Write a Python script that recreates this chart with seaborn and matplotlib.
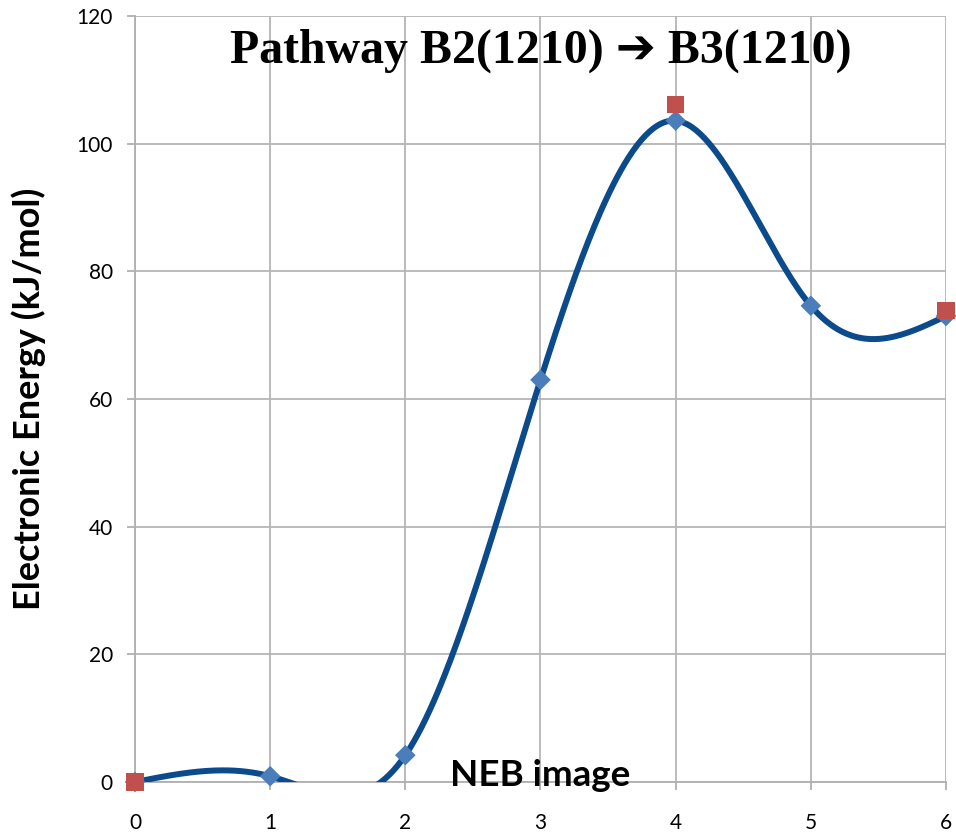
import numpy as np
import pandas as pd
import matplotlib
matplotlib.use("Agg")
import matplotlib.pyplot as plt
import seaborn as sns

# Data
images = [0, 1, 2, 3, 4, 5, 6]
energy = [0.0, 0.9, 4.2, 63.0, 103.6, 74.6, 73.0]
ref_images = [0, 4, 6]
ref_energy = [0.0, 106.2, 73.9]
y_ticks = [0, 20, 40, 60, 80, 100, 120]
title = "Pathway B2(1210) \u2794 B3(1210)"


def natural_spline(x, y, n=400):
    x = np.asarray(x, float)
    y = np.asarray(y, float)
    k = len(x)
    h = np.diff(x)
    A = np.zeros((k, k))
    b = np.zeros(k)
    A[0, 0] = 1
    A[-1, -1] = 1
    for i in range(1, k - 1):
        A[i, i - 1] = h[i - 1]
        A[i, i] = 2 * (h[i - 1] + h[i])
        A[i, i + 1] = h[i]
        b[i] = 6 * ((y[i + 1] - y[i]) / h[i] - (y[i] - y[i - 1]) / h[i - 1])
    M = np.linalg.solve(A, b)
    xs = np.linspace(x[0], x[-1], n)
    ys = np.empty_like(xs)
    for j, xv in enumerate(xs):
        i = min(np.searchsorted(x, xv, side="right") - 1, k - 2)
        t0 = x[i + 1] - xv
        t1 = xv - x[i]
        ys[j] = (M[i] * t0 ** 3 / (6 * h[i]) + M[i + 1] * t1 ** 3 / (6 * h[i])
                 + (y[i] / h[i] - M[i] * h[i] / 6) * t0
                 + (y[i + 1] / h[i] - M[i + 1] * h[i] / 6) * t1)
    return xs, ys


sns.set_theme(style="white")
plt.rcParams["font.family"] = ["Lato", "DejaVu Sans"]
plt.rcParams["text.color"] = "black"
plt.rcParams["axes.labelcolor"] = "black"

fig = plt.figure(figsize=(9.56, 8.39), dpi=100)
ax = fig.add_axes([135 / 956, 57 / 839, 811 / 956, 766 / 839])

xs, ys = natural_spline(images, energy)
curve = pd.DataFrame({"x": xs, "y": ys})
pts = pd.DataFrame({"x": images, "y": energy})
refs = pd.DataFrame({"x": ref_images, "y": ref_energy})

sns.lineplot(data=curve, x="x", y="y", ax=ax, color="#0b4a8b", linewidth=4.3,
             sort=False, zorder=3, clip_on=True)
sns.scatterplot(data=pts, x="x", y="y", ax=ax, marker="D", s=110, color="#4a7ebb",
                edgecolor="none", zorder=4, clip_on=False)
sns.scatterplot(data=refs, x="x", y="y", ax=ax, marker="s", s=150, color="#c0504d",
                edgecolor="none", zorder=5, clip_on=False)

ax.set_xlim(0, 6)
ax.set_ylim(0, 120)
ax.set_xticks(images)
ax.set_yticks(y_ticks)
ax.grid(True, color="#b5b5b5", linewidth=1.3)
ax.set_axisbelow(True)
for s in ["top", "right"]:
    ax.spines[s].set_visible(False)
for s in ["left", "bottom"]:
    ax.spines[s].set_color("#b0b0b0")
    ax.spines[s].set_linewidth(1.3)
ax.tick_params(axis="both", colors="#b0b0b0", labelcolor="black", labelsize=15,
               length=6, width=1.3, direction="out")
ax.tick_params(axis="x", pad=16, bottom=True)
ax.tick_params(axis="y", pad=10, left=True)
ax.set_xlabel("")
ax.set_ylabel("Electronic Energy (kJ/mol)", fontsize=26, fontweight="bold",
              labelpad=22, color="black")

ax.text(3, 1.0, "NEB image", ha="center", va="center", fontsize=26.5, fontweight="bold",
        color="black", zorder=6)
ax.text(3, 114.5, title, ha="center", va="center", fontsize=34.5, fontweight="bold",
        family=["Liberation Serif", "DejaVu Sans"], color="black", zorder=6)

fig.savefig("out.png", dpi=100)
